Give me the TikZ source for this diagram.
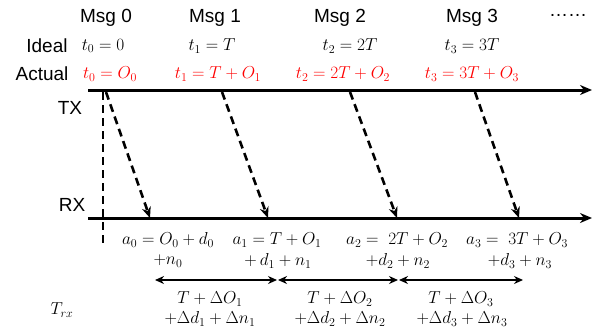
\documentclass[tikz,border=0pt]{standalone}
\usepackage{fontspec}
\setmainfont{Liberation Sans}
\usetikzlibrary{arrows.meta}
\definecolor{actred}{RGB}{255,0,0}
\tikzset{
  lbl/.style={font=\fontsize{19}{21}\selectfont, inner sep=0pt, anchor=center},
  mth/.style={font=\fontsize{17.5}{20}\selectfont, inner sep=0pt, anchor=center},
  red mth/.style={mth, text=actred},
  axis/.style={line width=3pt, -{Stealth[length=12pt,width=10pt]}},
  msgarrow/.style={line width=2.6pt, dash pattern=on 8pt off 5pt, -{Stealth[length=11pt,width=9pt]}},
  refline/.style={line width=2.8pt, dash pattern=on 8pt off 5pt},
  span/.style={line width=1.4pt, {Stealth[length=9pt,width=8pt]}-{Stealth[length=9pt,width=8pt]}}
}
\begin{document}
\begin{tikzpicture}[x=1pt,y=-1pt]
\useasboundingbox (0,0) rectangle (609,335);
% header
\node[lbl] (m0) at (106,18) {Msg 0};
\node[lbl] (m1) at (215,18) {Msg 1};
\node[lbl] (m2) at (340,18) {Msg 2};
\node[lbl] (m3) at (472,18) {Msg 3};
\node[lbl] (dots) at (568,15) {……};
\node[lbl] (ideal) at (47,46) {Ideal};
\node[mth] (i0) at (103,46) {$t_0=0$};
\node[mth] (i1) at (212,46) {$t_1=T$};
\node[mth] (i2) at (350,46) {$t_2=2T$};
\node[mth] (i3) at (472,46) {$t_3=3T$};
\node[lbl] (actual) at (42,74) {Actual};
\node[red mth] (r0) at (110,74) {$t_0=O_0$};
\node[red mth] (r1) at (218,74) {$t_1=T+O_1$};
\node[red mth] (r2) at (343,74) {$t_2=2T+O_2$};
\node[red mth] (r3) at (472,74) {$t_3=3T+O_3$};
\node[lbl] (tx) at (70,108) {TX};
\node[lbl] (rx) at (72,205) {RX};
% axes
\coordinate (txs) at (88,90);
\coordinate (txe) at (592,90);
\coordinate (rxs) at (88,218);
\coordinate (rxe) at (592,218);
\draw[axis] (txs) -- (txe);
\draw[axis] (rxs) -- (rxe);
% reference line
\coordinate (v0) at (103,92);
\coordinate (v1) at (103,246);
\draw[refline] (v0) -- (v1);
% message arrows
\coordinate (s0) at (106,92); \coordinate (e0) at (150,218);
\coordinate (s1) at (222,92); \coordinate (e1) at (268,218);
\coordinate (s2) at (350,92); \coordinate (e2) at (397,218);
\coordinate (s3) at (475,92); \coordinate (e3) at (519,218);
\draw[msgarrow] (s0) -- (e0);
\draw[msgarrow] (s1) -- (e1);
\draw[msgarrow] (s2) -- (e2);
\draw[msgarrow] (s3) -- (e3);
% arrivals
\node[mth] (a0) at (168,240) {$a_0=O_0+d_0$};
\node[mth] (a0b) at (168,261) {$+n_0$};
\node[mth] (a1) at (277,240) {$a_1=T+O_1$};
\node[mth] (a1b) at (278,261) {$+\,d_1+n_1$};
\node[mth] (a2) at (397,240) {$a_2=\ 2T+O_2$};
\node[mth] (a2b) at (398,261) {$+d_2+n_2$};
\node[mth] (a3) at (517,240) {$a_3=\ 3T+O_3$};
\node[mth] (a3b) at (520,261) {$+d_3+n_3$};
% spans
\coordinate (p0) at (155,280);
\coordinate (p1) at (277,280);
\coordinate (p1b) at (278,280);
\coordinate (p2) at (398,280);
\coordinate (p2b) at (399,280);
\coordinate (p3) at (523,280);
\draw[span] (p0) -- (p1);
\draw[span] (p1b) -- (p2);
\draw[span] (p2b) -- (p3);
\node[mth] (trx) at (62,310) {$T_{rx}$};
\node[mth] (d1) at (210,299) {$T+\Delta O_1$};
\node[mth] (d1b) at (210,319) {$+\Delta d_1+\Delta n_1$};
\node[mth] (d2) at (340,299) {$T+\Delta O_2$};
\node[mth] (d2b) at (340,319) {$+\Delta d_2+\Delta n_2$};
\node[mth] (d3) at (461,299) {$T+\Delta O_3$};
\node[mth] (d3b) at (462,319) {$+\Delta d_3+\Delta n_3$};
\end{tikzpicture}
\end{document}
